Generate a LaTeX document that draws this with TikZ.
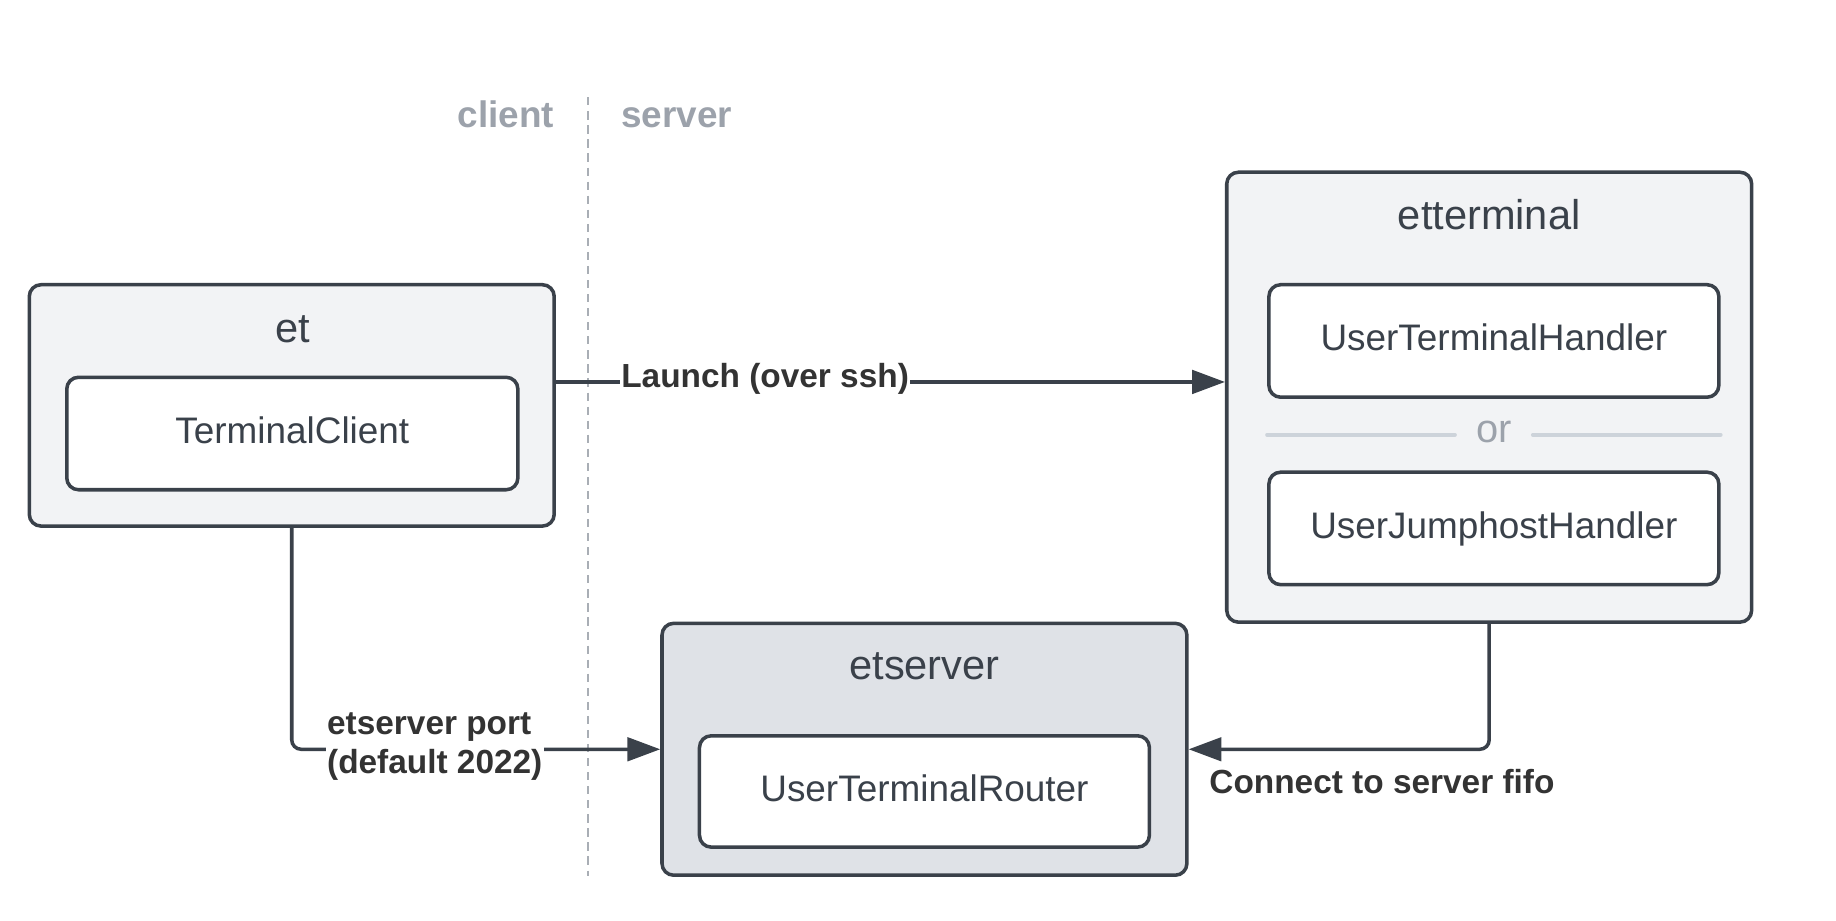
\documentclass[tikz,border=0pt]{standalone}
\usepackage{fontspec}
\setmainfont{Liberation Sans}
\usetikzlibrary{arrows.meta}
\definecolor{strk}{HTML}{3A414A}
\definecolor{txt}{HTML}{3A414A}
\definecolor{lbl}{HTML}{333333}
\definecolor{cfill}{HTML}{F2F3F5}
\definecolor{sfill}{HTML}{DFE2E7}
\definecolor{graytxt}{HTML}{9CA2AB}
\definecolor{sepline}{HTML}{CDD3DA}
\definecolor{dashgray}{HTML}{A9AEB5}
\tikzset{
  container/.style={draw=strk, line width=3pt, rounded corners=10pt, fill=cfill, minimum width=448pt, inner sep=0pt},
  inner/.style={draw=strk, line width=3pt, rounded corners=10pt, fill=white, minimum width=384pt, minimum height=96pt, inner sep=0pt, text height=24pt, text depth=7pt, text=txt, font=\fontsize{31.5}{37}\selectfont},
  title/.style={text=txt, font=\fontsize{35.5}{42}\selectfont, inner sep=0pt, anchor=base},
  conn/.style={draw=strk, line width=3pt, rounded corners=8pt, -{Triangle[length=28pt,width=20pt]}},
  elabel/.style={text=lbl, font=\fontsize{28.5}{33}\selectfont\bfseries, inner sep=1pt},
  side/.style={text=graytxt, font=\fontsize{31.5}{37}\selectfont\bfseries, inner sep=0pt, anchor=base},
}
\begin{document}
\begin{tikzpicture}[x=1pt,y=-1pt]
\useasboundingbox (0,0) rectangle (1567,786);
% client/server divider
\draw[dashgray, line width=1.8pt, dash pattern=on 7pt off 5pt] (502,83) -- (502,748);
\node[side, anchor=base east] (client) at (473,109) {client};
\node[side, anchor=base west] (server) at (530,109) {server};
% et
\node[container, minimum height=206pt] (et) at (249,346) {};
\node[title] (ettitle) at (250,292) {et};
\node[inner, minimum width=385pt] (tc) at (249.5,370) {TerminalClient};
% etterminal
\node[container, minimum height=384pt] (etterminal) at (1271,339) {};
\node[title] (etttitle) at (1271,196) {etterminal};
\node[inner] (uth) at (1275,291) {UserTerminalHandler};
\node[inner] (ujh) at (1275,451) {UserJumphostHandler};
\node[text=graytxt, font=\fontsize{34}{40}\selectfont, inner sep=0pt, anchor=base] (or) at (1275,378) {or};
\draw[sepline, line width=3.4pt, line cap=round] (uth.west |- 0,371) -- ([xshift=-18pt]or.west |- 0,371);
\draw[sepline, line width=3.4pt, line cap=round] ([xshift=18pt]or.east |- 0,371) -- (uth.east |- 0,371);
% etserver
\node[container, fill=sfill, minimum height=215pt] (etserver) at (789,639.5) {};
\node[title] (etstitle) at (789,580) {etserver};
\node[inner, minimum height=95pt] (utr) at (789,675.5) {UserTerminalRouter};
% connectors
\coordinate (ly) at (0,326);
\draw[conn] (et.east |- ly) -- (etterminal.west |- ly);
\node[elabel, fill=white] (launch) at (653,323) {Launch (over ssh)};
\draw[conn] (et.south) |- (etserver.west);
\node[elabel, fill=white, align=left, anchor=west] (portlbl) at (278,637) {etserver port\\(default 2022)};
\draw[conn] (etterminal.south) |- (etserver.east);
\node[elabel, anchor=west] (fifolbl) at (1031,667) {Connect to server fifo};
\end{tikzpicture}
\end{document}
